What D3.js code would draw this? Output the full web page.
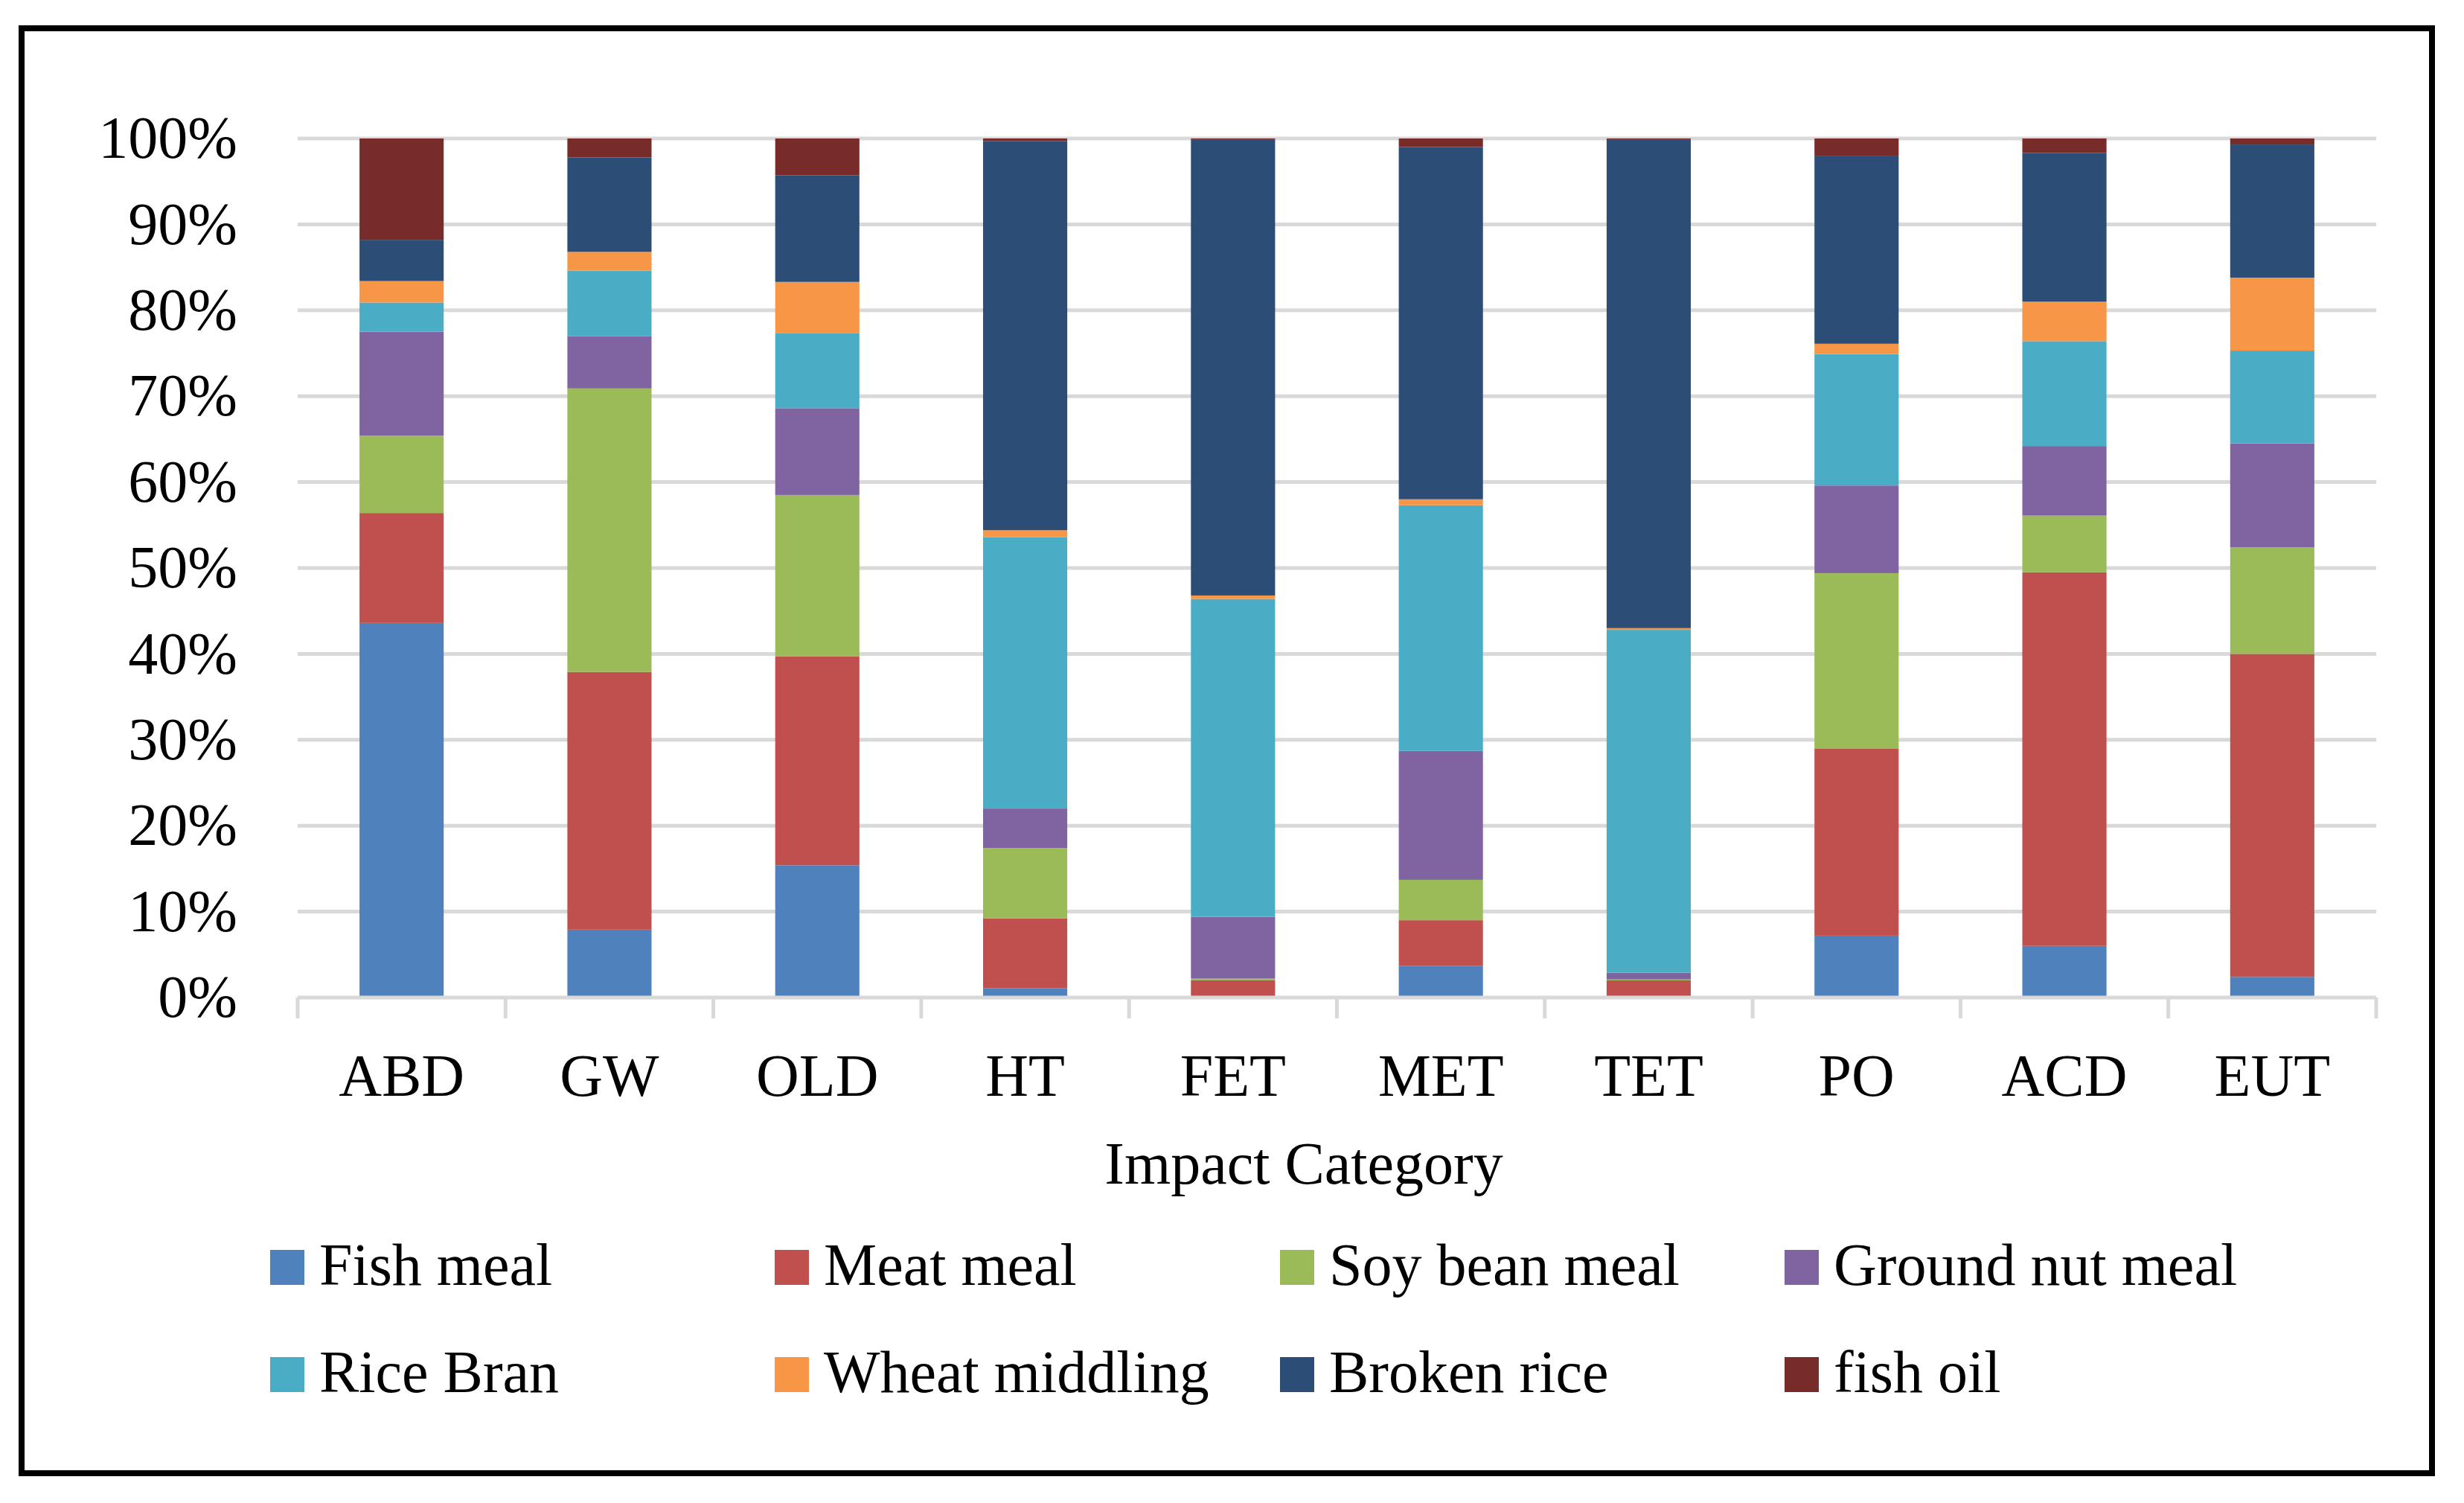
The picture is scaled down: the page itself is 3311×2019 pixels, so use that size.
<!DOCTYPE html>
<html>
<head>
<meta charset="utf-8">
<script src="https://cdn.jsdelivr.net/npm/d3@7"></script>
<style>
  body { margin: 0; background: #fff; }
  text { font-family: "Liberation Serif", "DejaVu Serif", serif; fill: #000; }
</style>
</head>
<body>
<div class="chart"></div>
<script>
// Categories and series (percent shares)
var categories = ["ABD", "GW", "OLD", "HT", "FET", "MET", "TET", "PO", "ACD", "EUT"];
var seriesNames = ["Fish meal", "Meat meal", "Soy bean meal", "Ground nut meal",
                   "Rice Bran", "Wheat middling", "Broken rice", "fish oil"];
var seriesColors = ["#4F81BD", "#C0504D", "#9BBB59", "#8064A2",
                    "#4BACC6", "#F79646", "#2C4D75", "#772C2A"];

var fishMeal      = [43.6,  7.9, 15.4,  1.1,  0.0,  3.7,  0.0,  7.2,  6.0,  2.4];
var meatMeal      = [12.8, 30.0, 24.3,  8.1,  2.0,  5.3,  2.0, 21.8, 43.5, 37.6];
var soyBeanMeal   = [ 9.0, 33.0, 18.8,  8.2,  0.2,  4.7,  0.1, 20.4,  6.6, 12.4];
var groundNutMeal = [12.1,  6.1, 10.1,  4.6,  7.2, 15.0,  0.8, 10.2,  8.1, 12.1];
var riceBran      = [ 3.4,  7.6,  8.7, 31.6, 37.0, 28.6, 39.9, 15.3, 12.2, 10.8];
var wheatMiddling = [ 2.5,  2.2,  6.0,  0.8,  0.4,  0.7,  0.2,  1.2,  4.6,  8.5];
var brokenRice    = [ 4.8, 11.0, 12.4, 45.3, 53.1, 41.0, 56.9, 21.9, 17.3, 15.5];
var fishOil       = [11.8,  2.2,  4.3,  0.3,  0.1,  1.0,  0.1,  2.0,  1.7,  0.7];

var yTicks = [0, 0.1, 0.2, 0.3, 0.4, 0.5, 0.6, 0.7, 0.8, 0.9, 1.0];

var allSeries = [fishMeal, meatMeal, soyBeanMeal, groundNutMeal,
                 riceBran, wheatMiddling, brokenRice, fishOil];

// Build table for d3.stack
var table = categories.map(function(c, i) {
    var row = { category: c };
    seriesNames.forEach(function(s, j) { row[s] = allSeries[j][i]; });
    return row;
});

var svgWidth = 3311;
var svgHeight = 2019;
var margin = { top: 186, right: 118, bottom: 679, left: 400 };
var width = svgWidth - margin.left - margin.right;
var height = svgHeight - margin.top - margin.bottom;
var fontSize = 80;
var grey = "#d9d9d9";

var svg = d3.select(".chart")
    .append("svg")
    .attr("width", svgWidth)
    .attr("height", svgHeight);

svg.append("rect")
    .attr("width", svgWidth)
    .attr("height", svgHeight)
    .attr("fill", "#fff");

// Outer frame
svg.append("rect")
    .attr("x", 29)
    .attr("y", 38)
    .attr("width", 3239)
    .attr("height", 1941)
    .attr("fill", "none")
    .attr("stroke", "#000")
    .attr("stroke-width", 8);

var chartGroup = svg.append("g")
    .attr("transform", `translate(${margin.left}, ${margin.top})`);

var xScale = d3.scaleBand()
    .domain(categories)
    .range([0, width])
    .paddingInner(0.595)
    .paddingOuter(0.2975);

var yScale = d3.scaleLinear()
    .domain([0, 1])
    .range([height, 0]);

// Gridlines
chartGroup.append("g")
    .selectAll("line")
    .data(yTicks.slice(1))
    .enter()
    .append("line")
    .attr("x1", 0)
    .attr("x2", width)
    .attr("y1", d => yScale(d))
    .attr("y2", d => yScale(d))
    .attr("stroke", grey)
    .attr("stroke-width", 5);

// Stacked bars
var stack = d3.stack()
    .keys(seriesNames)
    .offset(d3.stackOffsetExpand);
var stacked = stack(table);

chartGroup.selectAll(".series")
    .data(stacked)
    .enter()
    .append("g")
    .attr("class", "series")
    .attr("fill", (d, i) => seriesColors[i])
    .selectAll("rect")
    .data(d => d)
    .enter()
    .append("rect")
    .attr("x", d => xScale(d.data.category))
    .attr("width", xScale.bandwidth())
    .attr("y", d => yScale(d[1]))
    .attr("height", d => yScale(d[0]) - yScale(d[1]));

// Y axis labels
var leftAxis = d3.axisLeft(yScale)
    .tickValues(yTicks)
    .tickFormat(d3.format(".0%"))
    .tickSize(0)
    .tickPadding(81);

var yAxis = chartGroup.append("g").call(leftAxis);
yAxis.select(".domain").remove();
yAxis.selectAll("text")
    .attr("font-size", fontSize)
    .attr("font-family", "Liberation Serif")
    .attr("fill", "#000");

// X axis: grey baseline with category separators
var boundaries = d3.range(categories.length + 1).map(i => i * width / categories.length);

chartGroup.append("line")
    .attr("x1", 0)
    .attr("x2", width)
    .attr("y1", height)
    .attr("y2", height)
    .attr("stroke", grey)
    .attr("stroke-width", 5);

chartGroup.append("g")
    .selectAll("line")
    .data(boundaries)
    .enter()
    .append("line")
    .attr("x1", d => d)
    .attr("x2", d => d)
    .attr("y1", height)
    .attr("y2", height + 28)
    .attr("stroke", grey)
    .attr("stroke-width", 5);

chartGroup.append("g")
    .selectAll("text")
    .data(categories)
    .enter()
    .append("text")
    .attr("x", d => xScale(d) + xScale.bandwidth() / 2)
    .attr("y", 1472 - margin.top)
    .attr("text-anchor", "middle")
    .attr("font-size", fontSize)
    .text(d => d);

// X axis title
svg.append("text")
    .attr("x", 1752)
    .attr("y", 1590)
    .attr("text-anchor", "middle")
    .attr("font-size", fontSize)
    .text("Impact Category");

// Legend
var legendCols = [363, 1041, 1720, 2398];
var legendRows = [1726, 1870];

var legend = svg.append("g")
    .selectAll("g")
    .data(seriesNames)
    .enter()
    .append("g")
    .attr("transform", (d, i) => `translate(${legendCols[i % 4]}, ${legendRows[Math.floor(i / 4)]})`);

legend.append("rect")
    .attr("x", 0)
    .attr("y", -47)
    .attr("width", 46)
    .attr("height", 47)
    .attr("fill", (d, i) => seriesColors[i]);

legend.append("text")
    .attr("x", 66)
    .attr("y", 0)
    .attr("font-size", fontSize)
    .text(d => d);
</script>
</body>
</html>
